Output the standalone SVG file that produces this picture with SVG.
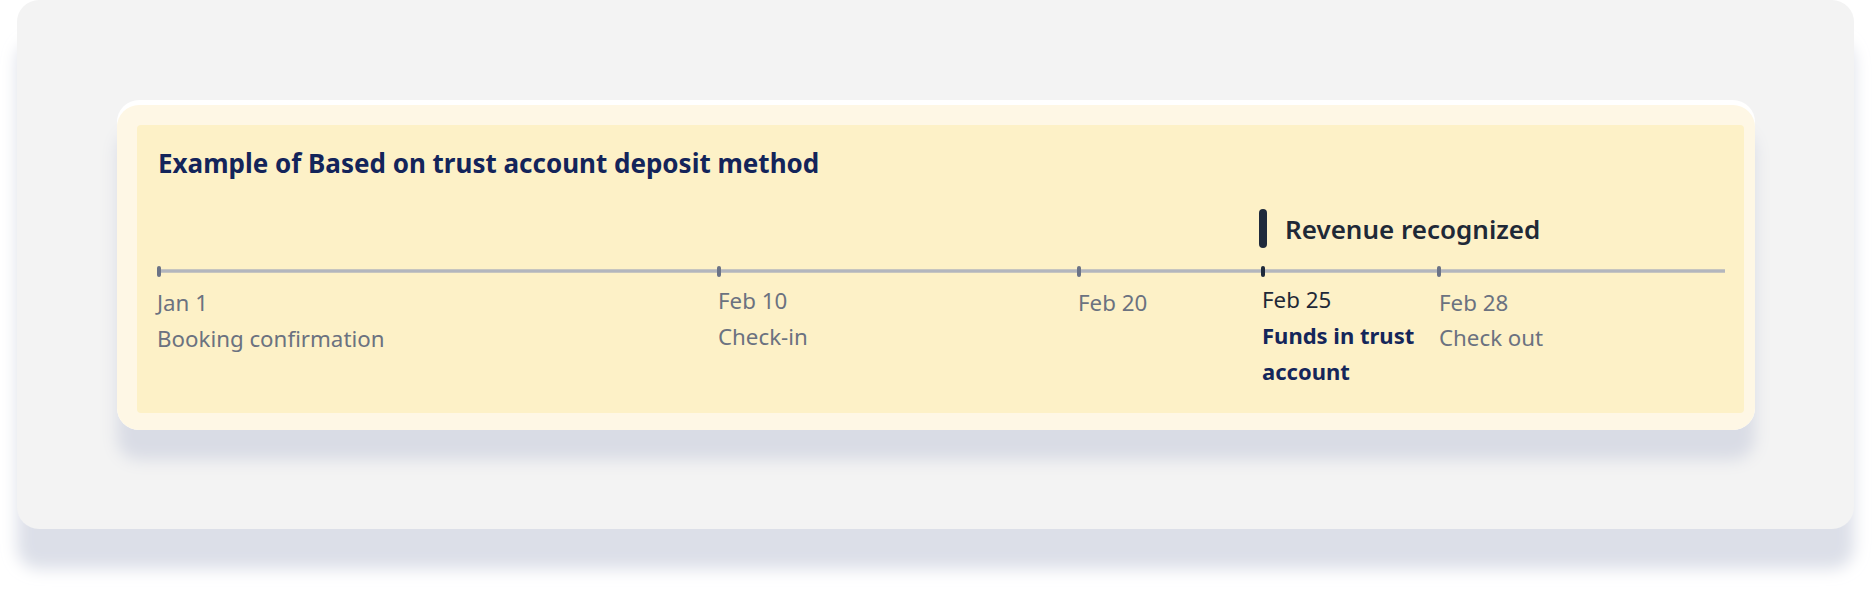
<svg xmlns="http://www.w3.org/2000/svg" width="1872" height="589" viewBox="0 0 1872 589">
  <defs>
    <filter id="panelShadow" x="-5%" y="-10%" width="110%" height="130%">
      <feDropShadow dx="0" dy="40" stdDeviation="8" flood-color="#DCDFE8" flood-opacity="1"/>
    </filter>
    <filter id="cardShadow" x="-5%" y="-10%" width="110%" height="140%">
      <feDropShadow dx="0" dy="30" stdDeviation="8" flood-color="#D9DCE5" flood-opacity="1"/>
    </filter>
  </defs>
  <style>
    .lbl { font-family: "Noto Sans", "Liberation Sans", sans-serif; font-size: 22.3px; fill: #6B7280; }
    .dark { fill: #1F2937; }
    .bold { font-family: "Noto Sans", "Liberation Sans", sans-serif; font-size: 22px; font-weight: 700; fill: #14265A; }
    .title { font-family: "Noto Sans", "Liberation Sans", sans-serif; font-size: 26px; font-weight: 700; fill: #13245A; }
    .rev { font-family: "Noto Sans", "Liberation Sans", sans-serif; font-size: 26px; font-weight: 600; fill: #1F2937; }
    .tick { stroke: #6B7386; stroke-width: 4; stroke-linecap: round; }
    .tick.active { stroke: #1F2A3C; }
    .axis { stroke: #B3B6BD; stroke-width: 3.5; }
  </style>
  <rect x="0" y="0" width="1872" height="589" fill="#FFFFFF"/>
  <g id="panel">
    <rect x="17" y="0" width="1837" height="529" rx="22" fill="#F3F3F3" filter="url(#panelShadow)"/>
  </g>
  <g id="card">
    <g filter="url(#cardShadow)">
      <rect x="117" y="100" width="1638" height="330" rx="22" fill="#FFFFFF"/>
    </g>
    <rect x="117" y="105" width="1638" height="325" rx="22" fill="#FEF7E5"/>
    <rect x="137" y="125" width="1607" height="288" rx="4" fill="#FDF1C7"/>
    <text class="title" x="158" y="173">Example of Based on trust account deposit method</text>
  </g>
  <g id="connectors">
    <line class="axis" x1="159" y1="271" x2="1725" y2="271"/>
  </g>
  <g id="revenue-recognized">
    <line x1="1263" y1="213" x2="1263" y2="244" stroke="#1F2A3C" stroke-width="8" stroke-linecap="round"/>
    <text class="rev" x="1285" y="239">Revenue recognized</text>
  </g>
  <g id="jan1">
    <line class="tick" x1="159" y1="268" x2="159" y2="275"/>
    <text class="lbl" x="157" y="311">Jan 1</text>
    <text class="lbl" x="157" y="347">Booking confirmation</text>
  </g>
  <g id="feb10">
    <line class="tick" x1="719" y1="268" x2="719" y2="275"/>
    <text class="lbl" x="718" y="309">Feb 10</text>
    <text class="lbl" x="718" y="345">Check-in</text>
  </g>
  <g id="feb20">
    <line class="tick" x1="1079" y1="268" x2="1079" y2="275"/>
    <text class="lbl" x="1078" y="311">Feb 20</text>
  </g>
  <g id="feb25">
    <line class="tick active" x1="1263" y1="268" x2="1263" y2="275"/>
    <text class="lbl dark" x="1262" y="308">Feb 25</text>
    <text class="bold" x="1262" y="344">Funds in trust</text>
    <text class="bold" x="1262" y="380">account</text>
  </g>
  <g id="feb28">
    <line class="tick" x1="1439" y1="268" x2="1439" y2="275"/>
    <text class="lbl" x="1439" y="311">Feb 28</text>
    <text class="lbl" x="1439" y="346">Check out</text>
  </g>
</svg>
